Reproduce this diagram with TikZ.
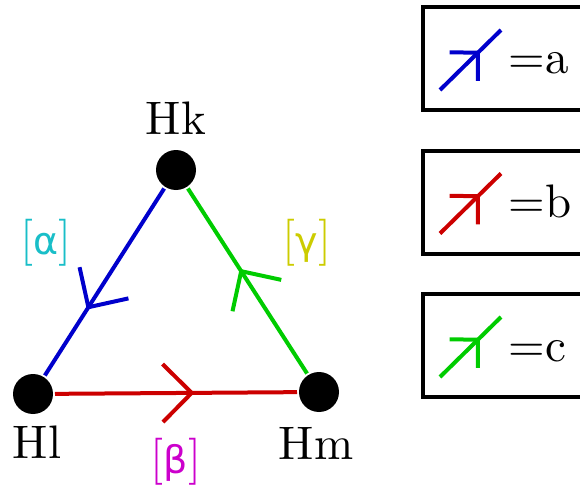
\documentclass[tikz,border=0pt]{standalone}
\usepackage{fontspec}
\usepackage{tikz}
\usetikzlibrary{positioning}
\setmainfont{lmroman10-regular.otf}
\newfontfamily\grkfont{DejaVu Sans}

\definecolor{edgeblue}{RGB}{0,0,204}
\definecolor{edgered}{RGB}{204,0,0}
\definecolor{edgegreen}{RGB}{0,204,0}
\definecolor{lblcyan}{RGB}{25,190,200}
\definecolor{lblmagenta}{RGB}{204,0,204}
\definecolor{lblyellow}{RGB}{204,204,0}

\begin{document}
\begin{tikzpicture}[x=0.5pt, y=-0.5pt, line width=2pt,
  every node/.style={font=\fontsize{23.5}{28}\selectfont},
  vertex/.style={circle, fill=black, minimum size=20pt, inner sep=0pt},
  greek/.style={inner sep=0pt},
  legbox/.style={draw=black, minimum width=100pt, minimum height=51.5pt, inner sep=0pt},
  barb/.pic={\draw[pic actions] (-29,-29) -- (0,0) -- (-29,29);}]
\useasboundingbox (0,0) rectangle (580,487);
\clip (0,0) rectangle (580,487);

% Vertices
\node[vertex] (hk) at (176,170) {};
\node[vertex] (hl) at (33,394) {};
\node[vertex] (hm) at (319,392) {};
\node[above=6pt of hk, inner sep=0pt] (hk-lab) {Hk};
\node[below=4pt of hl, inner sep=0pt, xshift=2pt] (hl-lab) {Hl};
\node[below=5.5pt of hm, inner sep=0pt, xshift=-1.5pt] (hm-lab) {Hm};

% Edges with their direction marks
\draw[edgeblue] (hk) -- (hl) pic[pos=0.635, sloped, allow upside down]{barb};
\draw[edgered] (hl) -- (hm) pic[pos=0.565, sloped, allow upside down]{barb};
\draw[edgegreen] (hm) -- (hk) pic[pos=0.553, sloped, allow upside down]{barb};

% Edge labels
\node[greek, text=lblcyan] (alpha) at (46,243) {[{\grkfont\fontsize{19}{23}\selectfont α}]};
\node[greek, text=lblmagenta] (beta) at (176,462) {[{\grkfont\fontsize{19}{23}\selectfont β}]};
\node[greek, text=lblyellow] (gamma) at (307,243) {[{\grkfont\fontsize{19}{23}\selectfont γ}]};

% Legend
\foreach \i/\c/\t in {0/edgeblue/a, 1/edgered/b, 2/edgegreen/c} {
  \node[legbox] (box-\t) at (523, 58.5+143.5*\i) {};
  \draw[\c] ([shift={(19,85)}]box-\t.north west) -- ([shift={(80,25)}]box-\t.north west)
    pic[pos=0.623, sloped, allow upside down, scale=0.69]{barb};
  \node[anchor=base west, inner sep=0pt] (key-\t) at ([shift={(86,69)}]box-\t.north west) {=\t};
}
\end{tikzpicture}
\end{document}
